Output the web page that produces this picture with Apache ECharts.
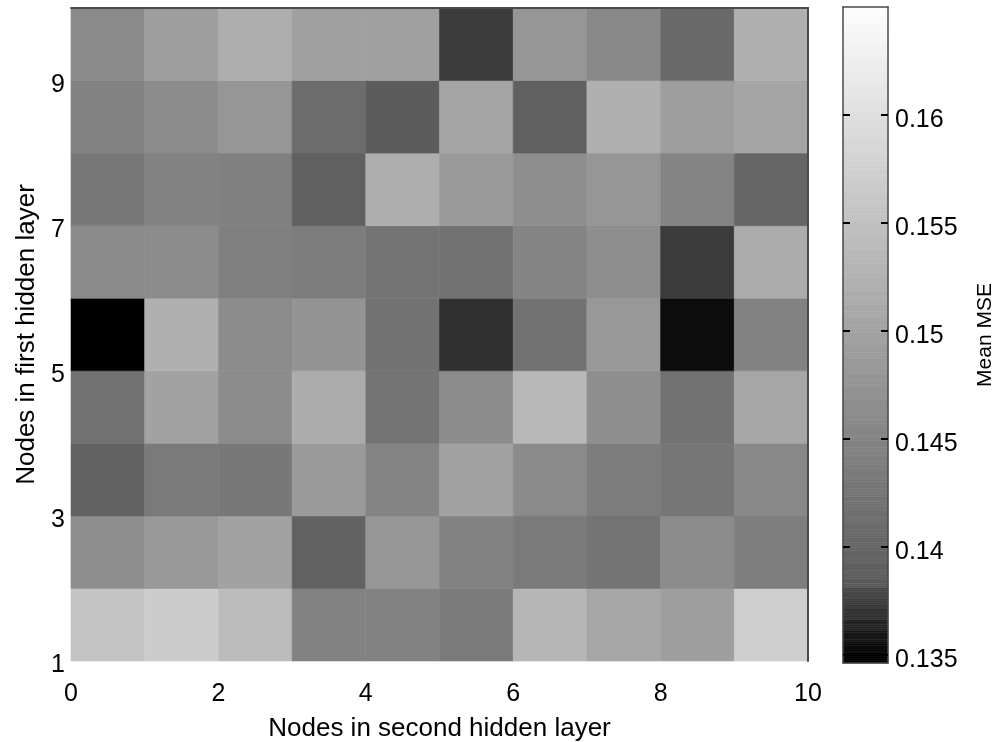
<!DOCTYPE html>
<html>
<head>
<meta charset="utf-8">
<script src="https://cdn.jsdelivr.net/npm/echarts@6/dist/echarts.min.js"></script>
<style>
html,body{margin:0;padding:0;background:#fff;}
#chart{width:995px;height:742px;}
</style>
</head>
<body>
<div id="chart"></div>
<script>
// ---- data ----
const secondLayerNodes = [0, 1, 2, 3, 4, 5, 6, 7, 8, 9];
const firstLayerNodes = [1, 2, 3, 4, 5, 6, 7, 8, 9];
const mseRow1 = [0.1555, 0.1568, 0.1542, 0.1447, 0.1447, 0.1434, 0.1532, 0.1506, 0.1493, 0.1572];
const mseRow2 = [0.1467, 0.1483, 0.1499, 0.1394, 0.1480, 0.1447, 0.1434, 0.1424, 0.1463, 0.1440];
const mseRow3 = [0.1394, 0.1434, 0.1430, 0.1486, 0.1450, 0.1499, 0.1460, 0.1437, 0.1427, 0.1457];
const mseRow4 = [0.1421, 0.1499, 0.1463, 0.1516, 0.1424, 0.1463, 0.1536, 0.1467, 0.1421, 0.1506];
const mseRow5 = [0.13485, 0.1522, 0.1463, 0.1476, 0.1421, 0.13685, 0.1421, 0.1483, 0.13535, 0.1447];
const mseRow6 = [0.1460, 0.1463, 0.1444, 0.1437, 0.1424, 0.1421, 0.1450, 0.1467, 0.13735, 0.1516];
const mseRow7 = [0.1430, 0.1447, 0.1444, 0.1391, 0.1519, 0.1486, 0.1467, 0.1480, 0.1450, 0.1401];
const mseRow8 = [0.1447, 0.1463, 0.1480, 0.1411, 0.1384, 0.1503, 0.1391, 0.1522, 0.1493, 0.1503];
const mseRow9 = [0.1460, 0.1493, 0.1519, 0.1496, 0.1496, 0.13735, 0.1480, 0.1457, 0.1407, 0.1522];
const mseRows = [mseRow1, mseRow2, mseRow3, mseRow4, mseRow5, mseRow6, mseRow7, mseRow8, mseRow9];

const xTicks = [0, 2, 4, 6, 8, 10];
const yTicks = [1, 3, 5, 7, 9];
const cbTicks = [0.135, 0.14, 0.145, 0.15, 0.155, 0.16];
const cbMin = 0.1346, cbMax = 0.1650;

// ---- colormap (gray, with stepped dark end) ----
const darkEnd = 0.1381, darkStep = 0.0005;
const darkGrays = [0, 12, 24, 36, 48, 60, 72];
function cmap(v) {
  let g;
  if (v < darkEnd) {
    const k = Math.min(6, Math.max(0, Math.floor((v - cbMin) / darkStep + 1e-9)));
    g = darkGrays[k];
  } else {
    g = 90 + (v - darkEnd) * 6082;
  }
  g = Math.max(0, Math.min(255, Math.round(g)));
  return 'rgb(' + g + ',' + g + ',' + g + ')';
}

const cellData = [];
firstLayerNodes.forEach((fy, r) => {
  secondLayerNodes.forEach((sx, c) => {
    cellData.push([sx, fy, mseRows[r][c]]);
  });
});

// colorbar slices
const cbSlices = [];
const cbStep = 0.0001;
for (let v = cbMin; v < cbMax - 1e-9; v += cbStep) cbSlices.push([0, v, v + cbStep]);

const FONT = 'Liberation Sans, Arial, Helvetica, sans-serif';
const BORDER = '#4a4a4a';

const chart = echarts.init(document.getElementById('chart'), null, {renderer: 'canvas'});
chart.setOption({
  backgroundColor: '#ffffff',
  animation: false,
  textStyle: {fontFamily: FONT, color: '#000'},
  grid: [
    {left: 71, top: 8, width: 737, height: 653, containLabel: false, outerBoundsMode: 'none'},
    {left: 843, top: 7, width: 45, height: 656, containLabel: false, outerBoundsMode: 'none'}
  ],
  xAxis: [
    {
      gridIndex: 0, type: 'value', min: 0, max: 10, position: 'bottom',
      name: 'Nodes in second hidden layer', nameLocation: 'middle', nameGap: 55,
      nameTextStyle: {fontSize: 26, fontFamily: FONT, color: '#000'},
      axisLine: {show: false},
      axisTick: {show: false},
      splitLine: {show: false},
      axisLabel: {customValues: xTicks, fontSize: 25, fontFamily: FONT, color: '#000', margin: 21}
    },
    {
      gridIndex: 0, type: 'value', min: 0, max: 10, position: 'top', z: 5,
      axisLine: {show: true, onZero: false, lineStyle: {color: BORDER, width: 2}},
      axisTick: {show: false}, axisLabel: {show: false}, splitLine: {show: false}
    },
    {
      gridIndex: 1, type: 'value', min: 0, max: 1, position: 'bottom', z: 5,
      axisLine: {show: true, onZero: false, lineStyle: {color: BORDER, width: 1.5}},
      axisTick: {show: false}, axisLabel: {show: false}, splitLine: {show: false}
    },
    {
      gridIndex: 1, type: 'value', min: 0, max: 1, position: 'top', z: 5,
      axisLine: {show: true, onZero: false, lineStyle: {color: BORDER, width: 1.5}},
      axisTick: {show: false}, axisLabel: {show: false}, splitLine: {show: false}
    }
  ],
  yAxis: [
    {
      gridIndex: 0, type: 'value', min: 1, max: 10, position: 'left',
      name: 'Nodes in first hidden layer', nameLocation: 'middle', nameGap: 28,
      nameTextStyle: {fontSize: 26, fontFamily: FONT, color: '#000'},
      axisLine: {show: false}, axisTick: {show: false}, splitLine: {show: false},
      axisLabel: {
        customValues: yTicks, fontSize: 25, fontFamily: FONT, color: '#000', margin: 6,
        formatter: v => '{s|' + v + '}',
        rich: {s: {fontSize: 25, fontFamily: FONT, color: '#000', padding: [9, 0, 0, 0]}}
      }
    },
    {
      gridIndex: 0, type: 'value', min: 1, max: 10, position: 'right', z: 5,
      axisLine: {show: true, onZero: false, lineStyle: {color: BORDER, width: 2}},
      axisTick: {show: false}, axisLabel: {show: false}, splitLine: {show: false}
    },
    {
      gridIndex: 1, type: 'value', min: cbMin, max: cbMax, position: 'left', z: 5,
      axisLine: {show: true, onZero: false, lineStyle: {color: BORDER, width: 1.5}},
      axisTick: {show: true, inside: true, length: 7, customValues: cbTicks, lineStyle: {color: '#000', width: 2}},
      axisLabel: {show: false}, splitLine: {show: false}
    },
    {
      gridIndex: 1, type: 'value', min: cbMin, max: cbMax, position: 'right', z: 5,
      name: 'Mean MSE', nameLocation: 'middle', nameGap: 87, nameRotate: 90,
      nameTextStyle: {fontSize: 21, fontFamily: FONT, color: '#000'},
      axisLine: {show: true, onZero: false, lineStyle: {color: BORDER, width: 1.5}},
      axisTick: {show: true, inside: true, length: 7, customValues: cbTicks, lineStyle: {color: '#000', width: 2}},
      axisLabel: {
        customValues: cbTicks, fontSize: 25, fontFamily: FONT, color: '#000', margin: 7,
        formatter: v => '{s|' + String(+(+v).toFixed(3)) + '}',
        rich: {s: {fontSize: 25, fontFamily: FONT, color: '#000', padding: [11, 0, 0, 0]}}
      },
      splitLine: {show: false}
    }
  ],
  series: [
    {
      type: 'custom', xAxisIndex: 0, yAxisIndex: 0, z: 2,
      data: cellData,
      encode: {x: 0, y: 1},
      renderItem: function (params, api) {
        const x = api.value(0), y = api.value(1), v = api.value(2);
        const p0 = api.coord([x, y + 1]);
        const p1 = api.coord([x + 1, y]);
        const col = cmap(v);
        return {
          type: 'rect',
          shape: {x: p0[0], y: p0[1], width: p1[0] - p0[0], height: p1[1] - p0[1]},
          style: {fill: col, stroke: col, lineWidth: 0.6}
        };
      }
    },
    {
      type: 'custom', xAxisIndex: 2, yAxisIndex: 2, z: 2,
      data: cbSlices,
      encode: {y: 1},
      renderItem: function (params, api) {
        const lo = api.value(1), hi = api.value(2);
        const p0 = api.coord([0, hi]);
        const p1 = api.coord([1, lo]);
        const col = cmap((lo + hi) / 2);
        return {
          type: 'rect',
          shape: {x: p0[0], y: p0[1], width: p1[0] - p0[0], height: p1[1] - p0[1]},
          style: {fill: col, stroke: col, lineWidth: 0.6}
        };
      }
    }
  ]
});
</script>
</body>
</html>
